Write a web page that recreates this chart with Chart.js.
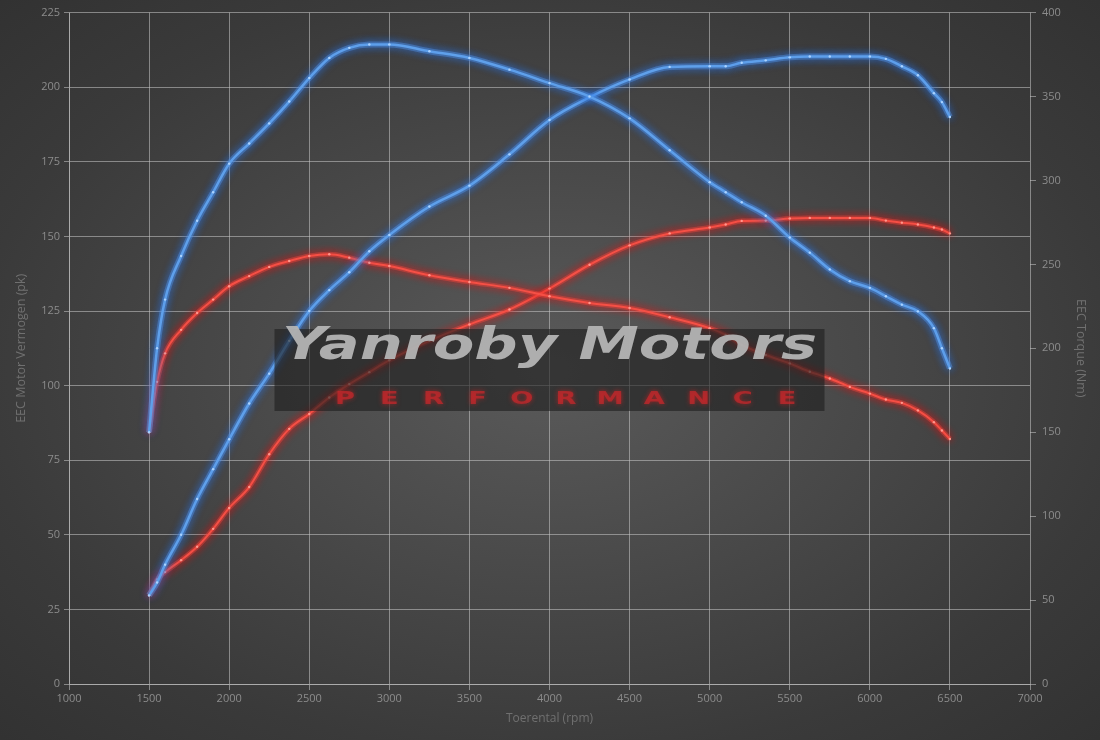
<!DOCTYPE html>
<html>
<head>
<meta charset="utf-8">
<script src="https://cdn.jsdelivr.net/npm/chart.js@4"></script>
<style>
html,body{margin:0;padding:0;width:1100px;height:740px;overflow:hidden;}
body{background:radial-gradient(ellipse 75% 75% at 50% 50%, #5a5a5a 0%, #4a4a4a 35%, #3a3a3a 70%, #303030 100%);}
canvas{display:block;}
</style>
</head>
<body>
<canvas id="c" width="1100" height="740"></canvas>
<script>
// ---- data ----
const rpm = [1500,1550,1600,1700,1800,1900,2000,2125,2250,2375,2500,2625,2750,2875,3000,3250,3500,3750,4000,4250,4500,4750,5000,5100,5200,5350,5500,5625,5750,5875,6000,6100,6200,6300,6400,6450,6500];
const tunedPower  = [29.7,34,40,50,62,72,82,94,104,115,125,132,138,145,150.5,160,167,177.5,189,196.6,202.6,206.8,207,207,208.2,209,210,210.3,210.3,210.3,210.3,209.5,207,204,198,195,190];
const tunedTorque = [150,200,229,255,276,293,310,322,334,347,361,373,379,381,381,377,373,366,358,350,337,318,299,293,287,279,266,257,247,240,236,231,226,222,212,200,188];
const stockPower  = [29.7,35,37.5,41.5,46,52,59,66,77,85.5,90.5,96,100.5,104.5,108.5,115,120.5,125.5,132.5,140.5,147,151,153,154,155.2,155.3,156,156.2,156.2,156.2,156.2,155.3,154.6,154,153,152.3,151];
const stockTorque = [150,180,197,211,221,229,237,243,248.5,252,255,256,254,251,249,243.5,239.5,236,231,227,224,218.5,212,208,202,196,191,186,182,177,173,169.5,167.5,163,156,151,146];
const xTitle = 'Toerental (rpm)';
const yTitle = 'EEC Motor Vermogen (pk)';
const y2Title = 'EEC Torque (Nm)';
const brand = 'Yanroby Motors';
const tagline = 'PERFORMANCE';

const pts = arr => rpm.map((r,i)=>({x:r,y:arr[i]}));

const BLUE = {line:'rgb(95,160,235)', glow:'rgba(40,115,230,1)', pt:'rgb(170,210,255)', gw:6};
const RED  = {line:'rgb(245,80,70)',  glow:'rgba(235,20,20,1)',  pt:'rgb(255,150,140)', gw:5};

function ds(label, arr, c, axis, w){
  return {label, data:pts(arr), yAxisID:axis, borderColor:c.line, backgroundColor:c.pt,
    pointBackgroundColor:c.pt, pointBorderWidth:0, pointRadius:1.2, borderWidth:w,
    tension:0.35, cubicInterpolationMode:'monotone', fill:false, glow:c.glow, glowWidth:c.gw};
}

const glowPlugin = {
  id:'glow',
  beforeDatasetDraw(chart,args){
    const ctx = chart.ctx;
    const d = chart.data.datasets[args.index];
    ctx.save();
    ctx.shadowColor = d.glow;
    ctx.shadowBlur = 9;
    const meta = args.meta;
    ctx.save();
    ctx.globalAlpha = 0.42;
    meta.dataset.options.borderWidth = d.glowWidth;
    meta.dataset.draw(ctx, chart.chartArea);
    meta.dataset.options.borderWidth = d.borderWidth;
    ctx.restore();
  },
  afterDatasetDraw(chart){
    chart.ctx.restore();
  }
};

const watermark = {
  id:'watermark',
  afterDatasetsDraw(chart){
    const ctx = chart.ctx;
    const a = chart.chartArea;
    const cx = (a.left + a.right)/2;
    const top = 329, w = 550, h = 82;
    ctx.save();
    ctx.fillStyle = 'rgba(30,30,30,0.62)';
    ctx.fillRect(cx - w/2, top, w, h);
    ctx.font = 'italic bold 44px "DejaVu Sans"';
    ctx.textBaseline = 'alphabetic';
    ctx.textAlign = 'left';
    const tw = ctx.measureText(brand).width;
    const targetW = 535;
    ctx.save();
    ctx.translate(cx - targetW/2, 359);
    ctx.scale(targetW/tw, 1);
    ctx.fillStyle = 'rgba(180,180,180,0.95)';
    ctx.fillText(brand, 0, 0);
    ctx.restore();
    ctx.font = 'bold 21px "DejaVu Sans"';
    ctx.textAlign = 'center';
    ctx.textBaseline = 'middle';
    ctx.fillStyle = 'rgba(200,40,45,0.72)';
    ctx.shadowColor = 'rgba(220,30,30,0.9)';
    ctx.shadowBlur = 5;
    tagline.split('').forEach((ch,i)=>{
      ctx.save();
      ctx.translate(345 + i*44.2, 400);
      ctx.scale(1.3, 0.8);
      ctx.fillText(ch, 0, 0);
      ctx.restore();
    });
    ctx.restore();
  }
};

const gridCol = 'rgba(200,200,200,0.55)';
const tickCol = '#8c8c8c';
const titleCol = '#707070';
const fam = '"Open Sans", "DejaVu Sans", sans-serif';
const tickFont = {family:fam, size:11};

new Chart(document.getElementById('c'), {
  type:'line',
  data:{datasets:[
    ds('Tuned torque', tunedTorque, BLUE, 'y2', 2.5),
    ds('Tuned power', tunedPower, BLUE, 'y', 2.5),
    ds('Stock torque', stockTorque, RED, 'y2', 2),
    ds('Stock power', stockPower, RED, 'y', 2)
  ]},
  options:{
    responsive:false, animation:false, devicePixelRatio:1,
    layout:{padding:{top:6,left:10,right:10,bottom:14}},
    plugins:{legend:{display:false}, tooltip:{enabled:false}},
    scales:{
      x:{type:'linear', min:1000, max:7000,
        ticks:{stepSize:500, color:tickCol, font:tickFont, padding:2, callback:v=>String(v), maxRotation:0},
        grid:{color:gridCol, tickLength:6, tickColor:gridCol},
        border:{color:gridCol},
        title:{display:true, text:xTitle, color:titleCol, font:{family:fam,size:12}, padding:{top:2,bottom:0}},
        afterFit(s){ s.height = 42; }
      },
      y:{position:'left', min:0, max:225,
        ticks:{stepSize:25, color:tickCol, font:tickFont, padding:4},
        grid:{color:gridCol, tickLength:5, tickColor:gridCol},
        border:{color:gridCol},
        title:{display:true, text:yTitle, color:titleCol, font:{family:fam,size:12.5}, padding:{bottom:2}},
        afterFit(s){ s.width = 59; }
      },
      y2:{position:'right', min:0, max:400,
        ticks:{stepSize:50, color:tickCol, font:tickFont, padding:6},
        grid:{drawOnChartArea:false, tickLength:6, tickColor:gridCol},
        border:{display:false},
        title:{display:true, text:y2Title, color:titleCol, font:{family:fam,size:12.5}, padding:{top:2}},
        afterFit(s){ s.width = 60; }
      }
    }
  },
  plugins:[glowPlugin, watermark]
});
</script>
</body>
</html>
